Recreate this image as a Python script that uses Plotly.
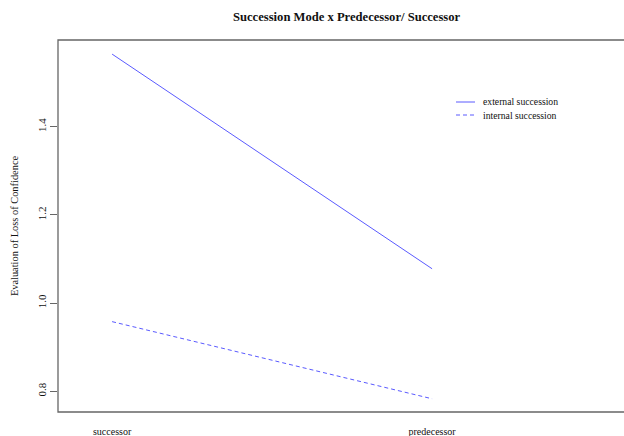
import plotly.graph_objects as go

# Interaction means: predecessor/successor role by succession mode
roles = ["successor", "predecessor"]
role_pos = [1, 2]
external_succession = [1.565, 1.078]
internal_succession = [0.958, 0.783]
y_ticks = [0.8, 1.0, 1.2, 1.4]

serif = "Liberation Serif, Times New Roman, serif"
line_color = "#5a5aff"

fig = go.Figure()
fig.add_trace(go.Scatter(x=role_pos, y=external_succession, mode="lines",
                         name="external succession",
                         line=dict(color=line_color, width=1)))
fig.add_trace(go.Scatter(x=role_pos, y=internal_succession, mode="lines",
                         name="internal succession",
                         line=dict(color=line_color, width=1, dash="4px,3px")))

W, H = 624, 436
ml, mr, mt, mb = 58, 0, 40, 24
pw = W - ml - mr

def px_to_paper_x(px):
    return (px - ml) / pw

def px_to_paper_y(py):
    return (H - mb - py) / (H - mt - mb)

shapes = [
    # plot frame (right side runs past the page edge)
    dict(type="rect", xref="paper", yref="paper", x0=0, x1=1.03, y0=0, y1=1,
         line=dict(color="#666666", width=1.3)),
]
annotations = [
    dict(text="<b>Succession Mode x Predecessor/ Successor</b>", xref="paper", yref="paper",
         x=px_to_paper_x(347), y=px_to_paper_y(17), showarrow=False,
         xanchor="center", yanchor="middle", font=dict(family=serif, size=12.6, color="#111")),
]

# legend drawn by hand
legend_items = [("external succession", "solid", 102), ("internal succession", "4px,3px", 115)]
for label, dash, ly in legend_items:
    shapes.append(dict(type="line", xref="paper", yref="paper",
                       x0=px_to_paper_x(456), x1=px_to_paper_x(475),
                       y0=px_to_paper_y(ly), y1=px_to_paper_y(ly),
                       line=dict(color=line_color, width=1, dash=dash)))
    annotations.append(dict(text=label, xref="paper", yref="paper",
                            x=px_to_paper_x(481), y=px_to_paper_y(ly), showarrow=False,
                            xanchor="left", yanchor="middle",
                            font=dict(family=serif, size=9.7, color="#111")))

fig.update_layout(
    width=W, height=H,
    margin=dict(l=ml, r=mr, t=mt, b=mb, pad=0),
    paper_bgcolor="white", plot_bgcolor="white",
    showlegend=False,
    shapes=shapes, annotations=annotations,
    xaxis=dict(range=[0.831, 0.831 + pw / 320.0], tickvals=role_pos, ticktext=roles,
               ticks="", showgrid=False, zeroline=False, showline=False,
               ticklabelstandoff=12,
               tickfont=dict(family=serif, size=10, color="#111")),
    yaxis=dict(range=[0.753, 1.597], tickvals=y_ticks,
               ticktext=[f"{v:.1f}" for v in y_ticks],
               ticks="outside", ticklen=7, tickcolor="#666666", tickwidth=1,
               tickangle=-90, showgrid=False, zeroline=False, showline=False,
               tickfont=dict(family=serif, size=11, color="#111"),
               title=dict(text="Evaluation of Loss of Confidence", standoff=14,
                          font=dict(family=serif, size=10.4, color="#111"))),
)

fig.write_html("out.html")
